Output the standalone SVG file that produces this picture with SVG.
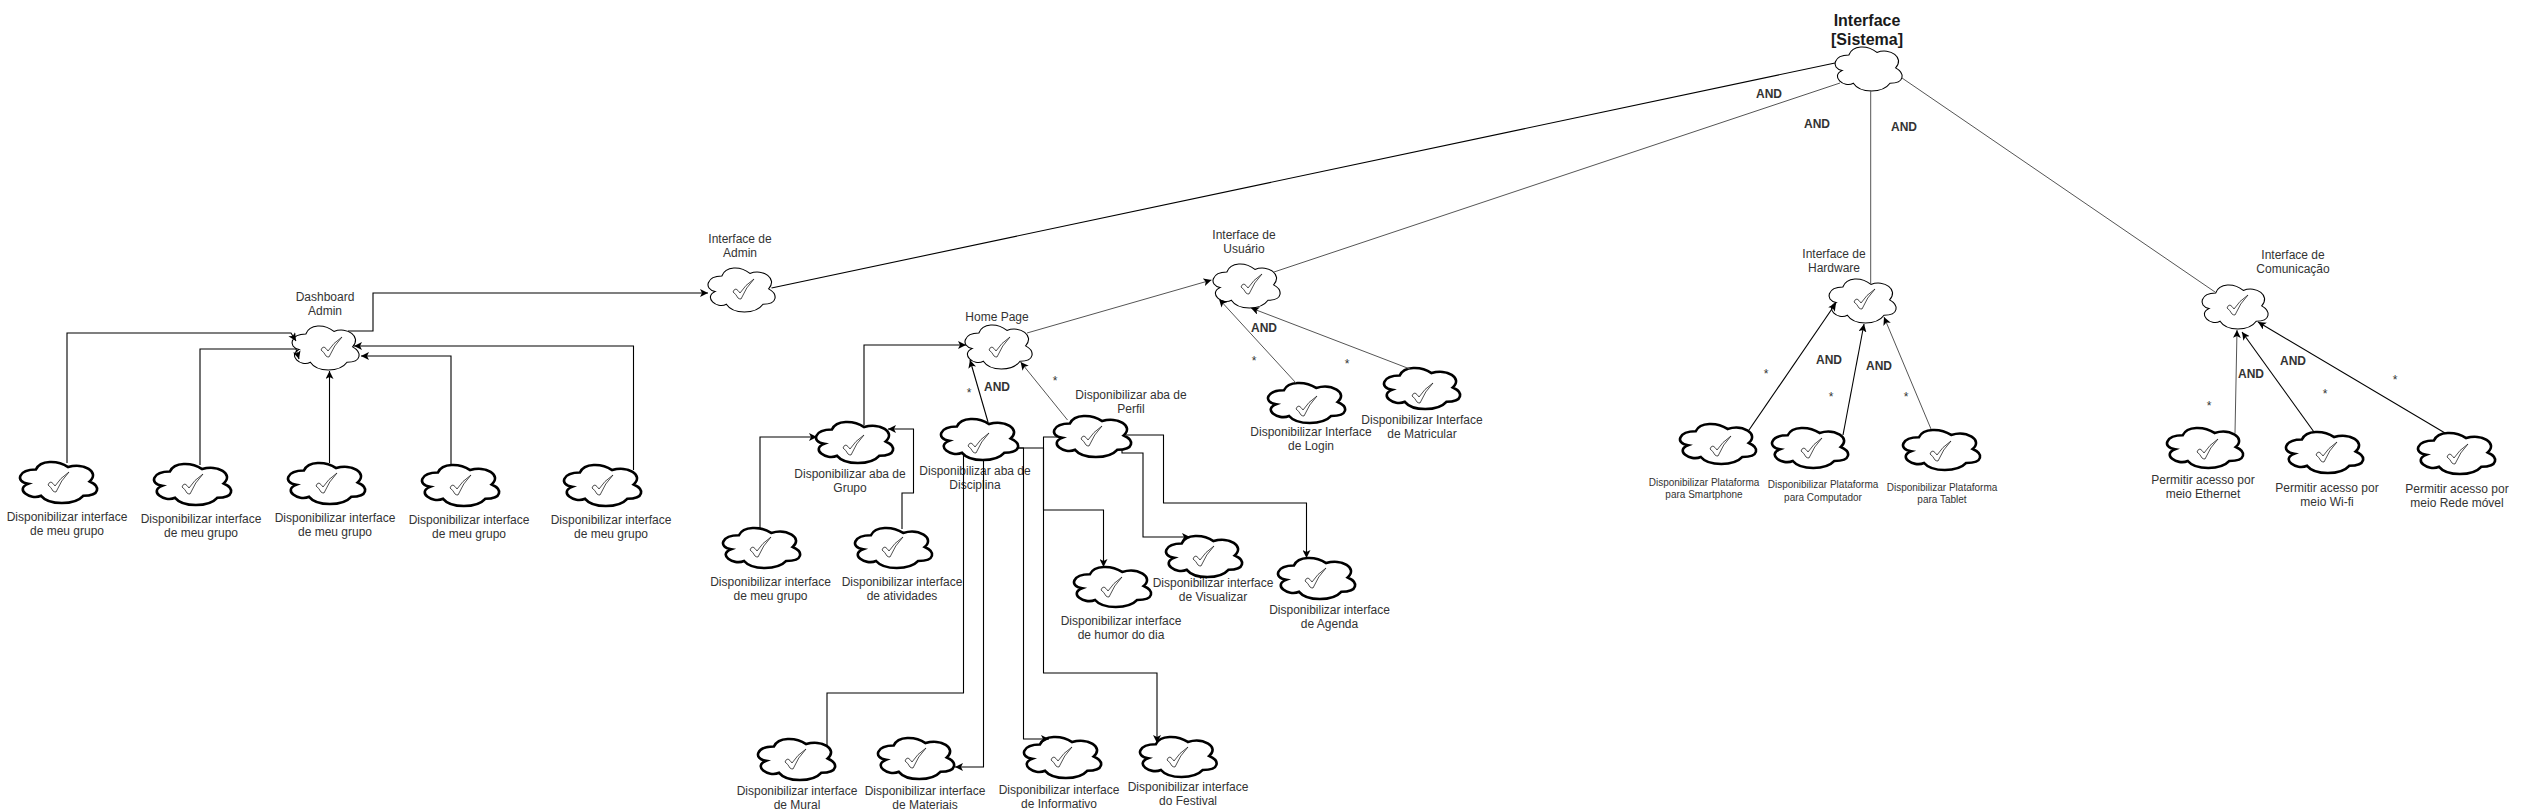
<svg xmlns="http://www.w3.org/2000/svg" width="2525" height="811" viewBox="0 0 2525 811">
<style>
text{font-family:"Liberation Sans",Arial,sans-serif;font-size:12px;fill:#333;text-anchor:middle}
.b{font-weight:bold}
.r{font-size:16px;font-weight:bold;fill:#1a1a1a}
.s{font-size:10px}
.cl{fill:#fff;stroke:#000}
.n1{stroke-width:1.1}
.n3{stroke-width:2.6}
.ck{fill:#fff;stroke:#222;stroke-width:.8}
.c path{fill:none;stroke:#000;stroke-width:1.1}
.c path.g{stroke:#555;stroke-width:1}
.c path.a{marker-end:url(#ah)}
</style>
<defs>
<path id="cloud" vector-effect="non-scaling-stroke" d="M20.67 18.22C-1.68 18.22-7.26 47.43 10.61 53.27C-7.26 66.12 12.85 94.16 27.37 82.48C37.43 105.84 70.95 105.84 82.12 82.48C104.47 82.48 104.47 59.11 90.5 47.43C104.47 24.07 82.12 .7 62.57 12.38C48.6-5.14 26.26-5.14 20.67 18.22Z"/>
<path id="check" class="ck" d="M0 13Q1 10 3 10Q5 11 7 14Q12 6 21 0Q13 8 8 20Q6 20 5 19Q3 15 0 13Z"/>
<marker id="ah" markerUnits="userSpaceOnUse" markerWidth="9" markerHeight="8" refX="8" refY="4" orient="auto"><path d="M0 0L8 4L0 8L2 4Z" fill="#000"/></marker>
</defs>

<g id="n-root"><use href="#cloud" class="cl n1" transform="translate(1835 47) scale(.67 .44)"/><text class="r" x="1867" y="26">Interface</text><text class="r" x="1867" y="45">[Sistema]</text></g>

<g id="n-admin"><use href="#cloud" class="cl n1" transform="translate(708 268) scale(.67 .44)"/><use href="#check" transform="translate(733 279)"/><text x="740" y="243">Interface de</text><text x="740" y="257">Admin</text></g>
<g id="n-dash"><use href="#cloud" class="cl n1" transform="translate(292 326) scale(.67 .44)"/><use href="#check" transform="translate(321 337)"/><text x="325" y="301">Dashboard</text><text x="325" y="315">Admin</text></g>
<g id="n-d1"><use href="#cloud" class="cl n3" transform="translate(20 462) scale(.77 .41)"/><use href="#check" transform="translate(48 472)"/><text x="67" y="521">Disponibilizar interface</text><text x="67" y="535">de meu grupo</text></g>
<g id="n-d2"><use href="#cloud" class="cl n3" transform="translate(154 464) scale(.77 .41)"/><use href="#check" transform="translate(182 474)"/><text x="201" y="523">Disponibilizar interface</text><text x="201" y="537">de meu grupo</text></g>
<g id="n-d3"><use href="#cloud" class="cl n3" transform="translate(288 463) scale(.77 .41)"/><use href="#check" transform="translate(316 473)"/><text x="335" y="522">Disponibilizar interface</text><text x="335" y="536">de meu grupo</text></g>
<g id="n-d4"><use href="#cloud" class="cl n3" transform="translate(422 465) scale(.77 .41)"/><use href="#check" transform="translate(450 475)"/><text x="469" y="524">Disponibilizar interface</text><text x="469" y="538">de meu grupo</text></g>
<g id="n-d5"><use href="#cloud" class="cl n3" transform="translate(564 465) scale(.77 .41)"/><use href="#check" transform="translate(592 475)"/><text x="611" y="524">Disponibilizar interface</text><text x="611" y="538">de meu grupo</text></g>

<g id="n-user"><use href="#cloud" class="cl n1" transform="translate(1213 264) scale(.67 .44)"/><use href="#check" transform="translate(1237 274) translate(4 0)"/><text x="1244" y="239">Interface de</text><text x="1244" y="253">Usuário</text></g>
<g id="n-home"><use href="#cloud" class="cl n1" transform="translate(965 325) scale(.67 .44)"/><use href="#check" transform="translate(989 337)"/><text x="997" y="321">Home Page</text></g>
<g id="n-grupo"><use href="#cloud" class="cl n3" transform="translate(816 422) scale(.77 .41)"/><use href="#check" transform="translate(843 435)"/><text x="850" y="478">Disponibilizar aba de</text><text x="850" y="492">Grupo</text></g>
<g id="n-disc"><use href="#cloud" class="cl n3" transform="translate(941 419) scale(.77 .41)"/><use href="#check" transform="translate(968 433)"/><text x="975" y="475">Disponibilizar aba de</text><text x="975" y="489">Disciplina</text></g>
<g id="n-perfil"><use href="#cloud" class="cl n3" transform="translate(1054 416) scale(.77 .41)"/><use href="#check" transform="translate(1081 426)"/><text x="1131" y="399">Disponibilizar aba de</text><text x="1131" y="413">Perfil</text></g>
<g id="n-login"><use href="#cloud" class="cl n3" transform="translate(1268 383) scale(.77 .40)"/><use href="#check" transform="translate(1296 396)"/><text x="1311" y="436">Disponibilizar Interface</text><text x="1311" y="450">de Login</text></g>
<g id="n-matr"><use href="#cloud" class="cl n3" transform="translate(1384 368) scale(.76 .41)"/><use href="#check" transform="translate(1412 383)"/><text x="1422" y="424">Disponibilizar Interface</text><text x="1422" y="438">de Matricular</text></g>
<g id="n-g1"><use href="#cloud" class="cl n3" transform="translate(723 528) scale(.77 .40)"/><use href="#check" transform="translate(750 537)"/><text x="770.500" y="586">Disponibilizar interface</text><text x="770.500" y="600">de meu grupo</text></g>
<g id="n-g2"><use href="#cloud" class="cl n3" transform="translate(855 528) scale(.77 .40)"/><use href="#check" transform="translate(882 537)"/><text x="902" y="586">Disponibilizar interface</text><text x="902" y="600">de atividades</text></g>
<g id="n-mural"><use href="#cloud" class="cl n3" transform="translate(758 739) scale(.77 .41)"/><use href="#check" transform="translate(785 749)"/><text x="797" y="795">Disponibilizar interface</text><text x="797" y="809">de Mural</text></g>
<g id="n-mat"><use href="#cloud" class="cl n3" transform="translate(878 738) scale(.76 .41)"/><use href="#check" transform="translate(905 748)"/><text x="925" y="795">Disponibilizar interface</text><text x="925" y="809">de Materiais</text></g>
<g id="n-info"><use href="#cloud" class="cl n3" transform="translate(1024 737) scale(.77 .41)"/><use href="#check" transform="translate(1051 747)"/><text x="1059" y="794">Disponibilizar interface</text><text x="1059" y="808">de Informativo</text></g>
<g id="n-fest"><use href="#cloud" class="cl n3" transform="translate(1140 737) scale(.765 .40)"/><use href="#check" transform="translate(1167 747)"/><text x="1188" y="791">Disponibilizar interface</text><text x="1188" y="805">do Festival</text></g>
<g id="n-humor"><use href="#cloud" class="cl n3" transform="translate(1074 567) scale(.77 .40)"/><use href="#check" transform="translate(1101 577)"/><text x="1121" y="625">Disponibilizar interface</text><text x="1121" y="639">de humor do dia</text></g>
<g id="n-vis"><use href="#cloud" class="cl n3" transform="translate(1166 536) scale(.76 .41)"/><use href="#check" transform="translate(1193 546)"/><text x="1213" y="587">Disponibilizar interface</text><text x="1213" y="601">de Visualizar</text></g>
<g id="n-agenda"><use href="#cloud" class="cl n3" transform="translate(1278 558) scale(.77 .41)"/><use href="#check" transform="translate(1305 568)"/><text x="1329.500" y="614">Disponibilizar interface</text><text x="1329.500" y="628">de Agenda</text></g>

<g id="n-hw"><use href="#cloud" class="cl n1" transform="translate(1829 279) scale(.67 .44)"/><use href="#check" transform="translate(1854 289)"/><text x="1834" y="258">Interface de</text><text x="1834" y="272">Hardware</text></g>
<g id="n-h1"><use href="#cloud" class="cl n3" transform="translate(1680 424) scale(.76 .40)"/><use href="#check" transform="translate(1710 436)"/><text class="s" x="1704" y="486">Disponibilizar Plataforma</text><text class="s" x="1704" y="498">para Smartphone</text></g>
<g id="n-h2"><use href="#cloud" class="cl n3" transform="translate(1772 428) scale(.76 .40)"/><use href="#check" transform="translate(1801 438)"/><text class="s" x="1823" y="488">Disponibilizar Plataforma</text><text class="s" x="1823" y="501">para Computador</text></g>
<g id="n-h3"><use href="#cloud" class="cl n3" transform="translate(1903 430) scale(.77 .40)"/><use href="#check" transform="translate(1930 441)"/><text class="s" x="1942" y="491">Disponibilizar Plataforma</text><text class="s" x="1942" y="503">para Tablet</text></g>

<g id="n-com"><use href="#cloud" class="cl n1" transform="translate(2202 285) scale(.66 .44)"/><use href="#check" transform="translate(2227 295)"/><text x="2293" y="259">Interface de</text><text x="2293" y="273">Comunicação</text></g>
<g id="n-c1"><use href="#cloud" class="cl n3" transform="translate(2167 428) scale(.76 .40)"/><use href="#check" transform="translate(2197 439)"/><text x="2203" y="484">Permitir acesso por</text><text x="2203" y="498">meio Ethernet</text></g>
<g id="n-c2"><use href="#cloud" class="cl n3" transform="translate(2286 432) scale(.77 .41)"/><use href="#check" transform="translate(2316 442)"/><text x="2327" y="492">Permitir acesso por</text><text x="2327" y="506">meio Wi-fi</text></g>
<g id="n-c3"><use href="#cloud" class="cl n3" transform="translate(2418 433) scale(.77 .41)"/><use href="#check" transform="translate(2447 444)"/><text x="2457" y="493">Permitir acesso por</text><text x="2457" y="507">meio Rede móvel</text></g>

<g id="connectors" class="c">
<path d="M1835 63L771.500 288"/>
<path class="g" d="M1840 83L1274 272"/>
<path class="g" d="M1870.700 90V285"/>
<path class="g" d="M1902 78L2215 292"/>
<path class="a" d="M348 331H373V293H708"/>
<path class="a" d="M67 463V333H291L296 341"/>
<path class="a" d="M200 465V349H296L299 359"/>
<path class="a" d="M329.500 463V371"/>
<path class="a" d="M451 465V356H361"/>
<path class="a" d="M633.500 470V346H354"/>
<path class="g a" d="M1027 333L1211.500 280"/>
<path class="g a" d="M1296 383L1219 299"/>
<path class="g a" d="M1410 369L1251 308"/>
<path class="a" d="M864 425V345H966"/>
<path class="a" d="M988 422L970 360"/>
<path class="g a" d="M1067.500 420L1020.600 362"/>
<path class="a" d="M760 529V437H817"/>
<path class="a" d="M902 529V493H913.500V429H888"/>
<path d="M963.500 454V693H827V746"/>
<path class="a" d="M983.500 459V767H955"/>
<path class="a" d="M1018 448H1023.500V739H1049"/>
<path class="a" d="M1018 448H1043.500V673H1157V743"/>
<path class="a" d="M1057 437H1043.500V510H1103.500V567"/>
<path class="a" d="M1122 450V453H1143V537H1190"/>
<path class="a" d="M1126 435H1163.500V503H1306.500V558"/>
<path class="a" d="M1749 430L1836 303"/>
<path class="a" d="M1843 435L1864 324"/>
<path class="g a" d="M1931 429L1884 317"/>
<path class="g a" d="M2235 433L2237 330"/>
<path class="a" d="M2314 432L2242 332"/>
<path class="a" d="M2445 433L2258 322"/>
</g>

<g id="labels">
<text class="b" x="1769" y="98">AND</text>
<text class="b" x="1817" y="128">AND</text>
<text class="b" x="1904" y="131">AND</text>
<text class="b" x="997" y="391">AND</text>
<text class="b" x="1264" y="332">AND</text>
<text class="b" x="1829" y="364">AND</text>
<text class="b" x="1879" y="370">AND</text>
<text class="b" x="2251" y="378">AND</text>
<text class="b" x="2293" y="365">AND</text>
<text x="1254" y="365">*</text>
<text x="1347" y="368">*</text>
<text x="1055" y="385">*</text>
<text x="969" y="397">*</text>
<text x="1766" y="378">*</text>
<text x="1831" y="401">*</text>
<text x="1906" y="401">*</text>
<text x="2209" y="410">*</text>
<text x="2325" y="398">*</text>
<text x="2395" y="384">*</text>
</g>
</svg>
